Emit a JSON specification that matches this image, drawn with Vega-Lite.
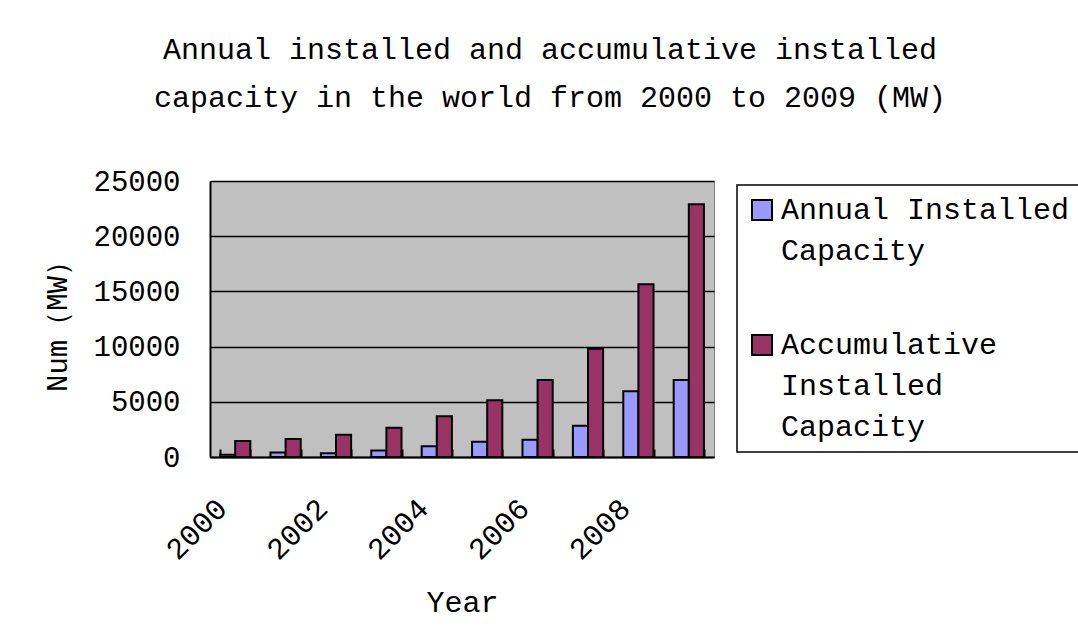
{
  "$schema": "https://vega.github.io/schema/vega-lite/v6.json",
  "autosize": "none",
  "width": 504,
  "height": 276,
  "padding": {"left": 210, "top": 181, "right": 364, "bottom": 184},
  "background": "white",
  "title": {
    "text": ["Annual installed and accumulative installed", "capacity in the world from 2000 to 2009 (MW)"],
    "font": "Liberation Mono",
    "fontSize": 30,
    "fontWeight": "normal",
    "color": "black",
    "lineHeight": 48,
    "anchor": "middle",
    "dx": 88,
    "offset": 54
  },
  "config": {
    "view": {"fill": "#C0C0C0", "stroke": "#808080", "strokeWidth": 1}
  },
  "data": {
    "values": [
      {"year": 2000, "series": "Annual Installed Capacity", "value": 200},
      {"year": 2000, "series": "Accumulative Installed Capacity", "value": 1450},
      {"year": 2001, "series": "Annual Installed Capacity", "value": 400},
      {"year": 2001, "series": "Accumulative Installed Capacity", "value": 1630},
      {"year": 2002, "series": "Annual Installed Capacity", "value": 350},
      {"year": 2002, "series": "Accumulative Installed Capacity", "value": 2020},
      {"year": 2003, "series": "Annual Installed Capacity", "value": 600},
      {"year": 2003, "series": "Accumulative Installed Capacity", "value": 2650},
      {"year": 2004, "series": "Annual Installed Capacity", "value": 970},
      {"year": 2004, "series": "Accumulative Installed Capacity", "value": 3690},
      {"year": 2005, "series": "Annual Installed Capacity", "value": 1390},
      {"year": 2005, "series": "Accumulative Installed Capacity", "value": 5140},
      {"year": 2006, "series": "Annual Installed Capacity", "value": 1570},
      {"year": 2006, "series": "Accumulative Installed Capacity", "value": 6980},
      {"year": 2007, "series": "Annual Installed Capacity", "value": 2840},
      {"year": 2007, "series": "Accumulative Installed Capacity", "value": 9810},
      {"year": 2008, "series": "Annual Installed Capacity", "value": 5950},
      {"year": 2008, "series": "Accumulative Installed Capacity", "value": 15650},
      {"year": 2009, "series": "Annual Installed Capacity", "value": 6980},
      {"year": 2009, "series": "Accumulative Installed Capacity", "value": 22900}
    ]
  },
  "mark": {"type": "bar", "stroke": "black", "strokeWidth": 2},
  "encoding": {
    "x": {
      "field": "year",
      "type": "ordinal",
      "scale": {"paddingInner": 0.4, "paddingOuter": 0.2},
      "axis": {
        "title": "Year",
        "titleFont": "Liberation Mono",
        "titleFontSize": 30,
        "titleFontWeight": "normal",
        "titleColor": "black",
        "titlePadding": 22,
        "labelFont": "Liberation Mono",
        "labelFontSize": 30,
        "labelColor": "black",
        "labelAngle": -45,
        "labelPadding": 44,
        "labelOffset": -24,
        "labelExpr": "toNumber(datum.value) % 2 == 0 ? datum.label : ''",
        "tickBand": "extent",
        "tickSize": -8,
        "tickColor": "black",
        "tickWidth": 2,
        "domainColor": "black",
        "domainWidth": 2,
        "grid": false
      }
    },
    "xOffset": {
      "field": "series",
      "type": "nominal",
      "sort": ["Annual Installed Capacity", "Accumulative Installed Capacity"]
    },
    "y": {
      "field": "value",
      "type": "quantitative",
      "scale": {"domain": [0, 25000]},
      "axis": {
        "title": "Num（MW）",
        "titleFont": "Liberation Mono",
        "titleFontSize": 29,
        "titleFontWeight": "normal",
        "titleColor": "black",
        "titlePadding": 20,
        "values": [0, 5000, 10000, 15000, 20000, 25000],
        "format": "d",
        "labelFont": "Liberation Mono",
        "labelFontSize": 29,
        "labelColor": "black",
        "labelPadding": 30,
        "ticks": false,
        "domainColor": "black",
        "domainWidth": 2,
        "gridColor": "black",
        "gridWidth": 1.5,
        "gridOpacity": 1
      }
    },
    "color": {
      "field": "series",
      "type": "nominal",
      "scale": {
        "domain": ["Annual Installed Capacity", "Accumulative Installed Capacity"],
        "range": ["#9999FF", "#993366"]
      },
      "legend": {
        "title": null,
        "orient": "none",
        "legendX": 527,
        "legendY": 4,
        "strokeColor": "black",
        "fillColor": "white",
        "padding": 10,
        "rowPadding": 64,
        "symbolType": "square",
        "symbolSize": 400,
        "symbolStrokeColor": "black",
        "symbolStrokeWidth": 2,
        "symbolOpacity": 1,
        "labelFont": "Liberation Mono",
        "labelFontSize": 30,
        "labelColor": "black",
        "labelLimit": 0,
        "labelOffset": 4,
        "labelExpr": "datum.label == 'Annual Installed Capacity' ? ['Annual Installed', 'Capacity'] : ['Accumulative', 'Installed', 'Capacity']",
        "encode": {
          "legend": {"update": {"strokeWidth": {"value": 1.5}}},
          "labels": {"update": {"lineHeight": {"value": 41}}}
        }
      }
    }
  }
}
